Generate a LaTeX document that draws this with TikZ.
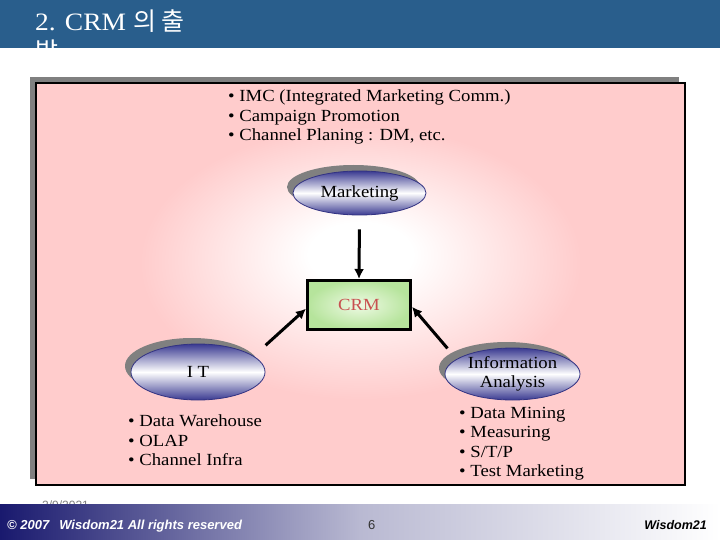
\documentclass[tikz,border=0pt]{standalone}
\usepackage{fontspec}
\setmainfont{Liberation Serif}[FakeStretch=1.1]
\newfontfamily\krfont{Noto Sans CJK KR}
\newfontfamily\footfont{Liberation Sans}
\usetikzlibrary{shapes.geometric,shadows,arrows.meta}
\definecolor{headblue}{RGB}{41,94,140}
\definecolor{pinkbg}{RGB}{255,204,204}
\definecolor{bubbleedge}{RGB}{50,50,130}
\definecolor{bubbleblue}{RGB}{58,58,145}
\definecolor{crmgreen}{RGB}{182,228,156}
\definecolor{crmlight}{RGB}{238,250,228}
\definecolor{crmred}{RGB}{200,80,80}
\definecolor{footnavy}{RGB}{25,25,110}
\definecolor{footmid}{RGB}{185,185,210}
\pgfdeclareradialshading{pinkglow}{\pgfpoint{0bp}{4bp}}{color(0bp)=(white); color(4bp)=(white); color(17bp)=(pinkbg); color(50bp)=(pinkbg)}
\begin{document}
\begin{tikzpicture}[x=1pt,y=-1pt,
  every node/.style={font=\fontsize{17}{19.3}\selectfont},
  bubble/.style={ellipse, draw=bubbleedge, line width=0.8pt, inner sep=0pt, align=center,
    top color=bubbleblue, bottom color=bubbleblue, middle color=white,
    drop shadow={shadow xshift=-6pt, shadow yshift=6pt, fill=gray, opacity=1}},
  hub/.style={rectangle, draw=black, line width=3pt, inner color=crmlight, outer color=crmgreen,
    minimum width=103pt, minimum height=49pt, text=crmred},
  link/.style={line width=3pt, -{Latex[length=10pt,width=10pt]}},
  items/.style={align=left, inner sep=0pt, anchor=north west},
  foot/.style={inner sep=0pt, anchor=base west}]
\useasboundingbox (0,0) rectangle (720,540);
\fill[white] (0,0) rectangle (720,540);
\fill[headblue] (0,0) rectangle (720,48);
\node[foot, text=white, font=\fontsize{25}{30}\selectfont] (title) at (35,31) {2. CRM {\krfont 의 출}};
\node[foot, text=white, font=\fontsize{25}{30}\krfont] (titlewrap) at (35,61) {발};
\fill[gray] (30,77) rectangle (679,479);
\shadedraw[shading=pinkglow, line width=1.2pt] (36,83) rectangle (685,485);
\node[bubble, minimum width=133pt, minimum height=44pt] (mkt) at (359.5,193) {Marketing};
\node[hub] (crm) at (359,305) {CRM};
\node[bubble, minimum width=134pt, minimum height=56pt] (it) at (198,372) {I T};
\node[bubble, minimum width=135pt, minimum height=52pt] (info) at (512.5,374) {Information\\Analysis};
\draw[link, shorten <=14pt] (mkt.south) -- (crm.north);
\draw[link, shorten <=16pt] (it.16) -- (crm.184);
\draw[link, shorten <=14pt] (info.165) -- (crm.-2);
\node[items] (mktlist) at (228,90) {• IMC (Integrated Marketing Comm.)\\• Campaign Promotion\\• Channel Planing : DM, etc.};
\node[items] (itlist) at (128,415) {• Data Warehouse\\• OLAP\\• Channel Infra};
\node[items] (infolist) at (459,407) {• Data Mining\\• Measuring\\• S/T/P\\• Test Marketing};
\node[foot, text=gray, font=\footfont\fontsize{12}{14}\selectfont] (date) at (42,509) {2/9/2021};
\shade[left color=footnavy, right color=white, middle color=footmid] (0,504) rectangle (720,540);
\node[foot, text=white, font=\footfont\bfseries\itshape\fontsize{13}{15}\selectfont] (copy) at (7,529) {© 2007\hspace{10pt}Wisdom21 All rights reserved};
\node[foot, text=black!80, font=\footfont\fontsize{13}{15}\selectfont] (page) at (368,529) {6};
\node[foot, anchor=base east, font=\footfont\bfseries\itshape\fontsize{12.5}{15}\selectfont] (brand) at (707,529) {Wisdom21};
\end{tikzpicture}
\end{document}
